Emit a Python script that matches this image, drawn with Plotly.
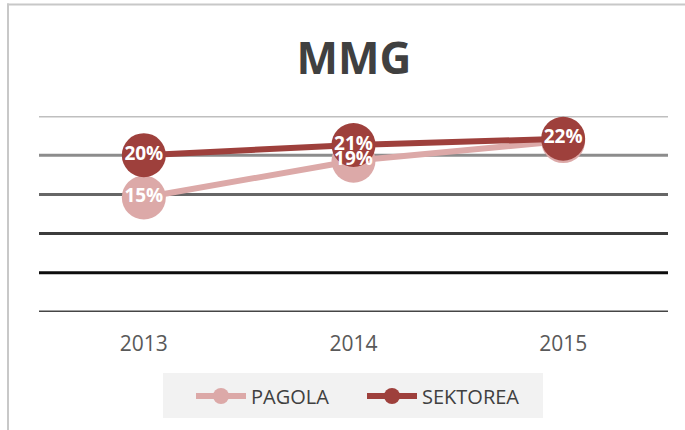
import plotly.graph_objects as go

years = ["2013", "2014", "2015"]
pagola = [0.146, 0.193, 0.218]
sektorea = [0.200, 0.213, 0.221]
pagola_labels = ["15%", "19%", "22%"]
sektorea_labels = ["20%", "21%", "22%"]
# the 2015 PAGOLA label sits hidden under the SEKTOREA marker in the reference
pagola_label_shown = [True, True, False]
grid_values = [0.0, 0.05, 0.10, 0.15, 0.20, 0.25]
grid_colors = ["#454545", "#0d0d0d", "#3c3c3c", "#666666", "#8c8c8c", "#bfbfbf"]

PINK = "#dca9a8"
RED = "#9e403c"
W, H = 685, 430
ML, MR, MT, MB = 39, 17, 116, 118

fig = go.Figure()
fig.add_trace(go.Scatter(
    x=years, y=pagola, name="PAGOLA", mode="lines+markers",
    line=dict(color=PINK, width=6), marker=dict(color=PINK, size=44),
    cliponaxis=False,
))
fig.add_trace(go.Scatter(
    x=years, y=sektorea, name="SEKTOREA", mode="lines+markers",
    line=dict(color=RED, width=6), marker=dict(color=RED, size=44),
    cliponaxis=False,
))
label_font = dict(family="Open Sans", size=19, color="white", weight="bold")
fig.add_trace(go.Scatter(
    x=[x for x, s in zip(years, pagola_label_shown) if s],
    y=[v for v, s in zip(pagola, pagola_label_shown) if s],
    text=[t for t, s in zip(pagola_labels, pagola_label_shown) if s],
    mode="text", showlegend=False, textposition="middle center",
    textfont=label_font, hoverinfo="skip", cliponaxis=False,
))
fig.add_trace(go.Scatter(
    x=years, y=sektorea, text=sektorea_labels, mode="text", showlegend=False,
    textposition="middle center", textfont=label_font, hoverinfo="skip",
    cliponaxis=False,
))

pw = W - ML - MR
ph = H - MT - MB


def px_x(p):
    return (p - ML) / pw


def px_y(p):
    return (H - MB - p) / ph


shapes = []
for v, c in zip(grid_values, grid_colors):
    shapes.append(dict(type="line", xref="paper", yref="y", x0=0, x1=1, y0=v, y1=v,
                       line=dict(color=c, width=3), layer="below"))
shapes.append(dict(type="line", xref="paper", yref="paper", x0=px_x(7), x1=px_x(W + 5),
                   y0=px_y(4.5), y1=px_y(4.5), line=dict(color="#c8c8c8", width=2)))
shapes.append(dict(type="line", xref="paper", yref="paper", x0=px_x(8), x1=px_x(8),
                   y0=px_y(3.5), y1=px_y(H + 5), line=dict(color="#c8c8c8", width=2)))
# legend background box
shapes.append(dict(type="rect", xref="paper", yref="paper", x0=px_x(163), x1=px_x(543),
                   y0=px_y(373), y1=px_y(418), fillcolor="#f2f2f2",
                   line=dict(width=0), layer="below"))

fig.update_layout(
    width=W, height=H,
    margin=dict(l=ML, r=MR, t=MT, b=MB, autoexpand=False),
    paper_bgcolor="white", plot_bgcolor="rgba(0,0,0,0)",
    title=dict(text="<b>MMG</b>", x=354 / W, xref="container", xanchor="center",
               y=1 - 59 / H, yanchor="middle",
               font=dict(family="Open Sans", size=44, color="#404040")),
    xaxis=dict(type="category", range=[-0.5, 2.5], showgrid=False, zeroline=False,
               showline=False, ticks="", ticklabelstandoff=17,
               tickfont=dict(family="Open Sans", size=21, color="#595959")),
    yaxis=dict(range=[0, 0.25], showgrid=False, zeroline=False, showticklabels=False,
               showline=False, ticks=""),
    shapes=shapes,
    showlegend=True,
    legend=dict(orientation="h", x=px_x(191), xanchor="left",
                y=px_y(396), yanchor="middle",
                bgcolor="rgba(0,0,0,0)", font=dict(family="Open Sans", size=20, color="#404040"),
                itemwidth=50, entrywidth=106, borderwidth=0),
)

fig.write_html("out.html", config={"displayModeBar": False},
               post_script="document.body.style.margin='0px';")
